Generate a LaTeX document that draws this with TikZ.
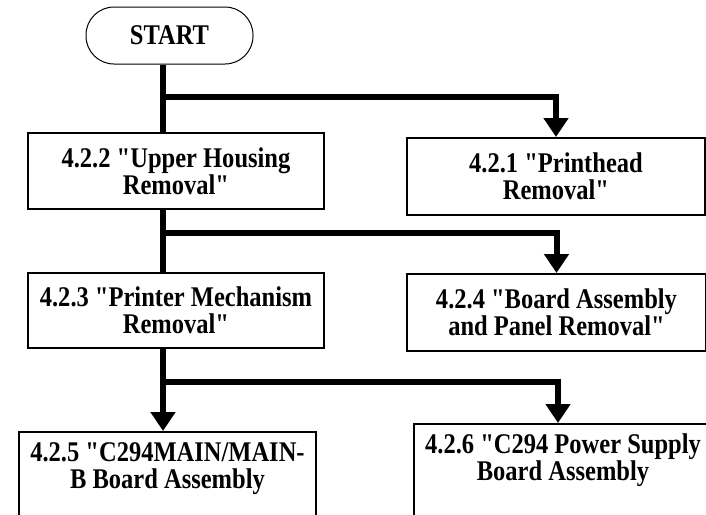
\documentclass[tikz,border=0pt]{standalone}
\usepackage{fontspec}
\setmainfont{Liberation Serif}[FakeStretch=0.86, Ligatures=TeXOff]
\usetikzlibrary{arrows.meta}

\tikzset{
  stepbox/.style={draw, line width=2pt, align=center, inner xsep=3pt, inner ysep=0pt,
    font=\bfseries\fontsize{28.5}{27}\selectfont},
  startbox/.style={draw, line width=1pt, rounded corners=28pt, minimum width=167pt,
    minimum height=57pt, font=\bfseries\fontsize{28.5}{27}\selectfont},
  link/.style={line width=6pt},
  linkarrow/.style={line width=6pt, -{Triangle[width=24pt,length=19pt]}},
}

\begin{document}
\begin{tikzpicture}[x=1pt,y=-1pt]
        \useasboundingbox (0,0) rectangle (706,514);
        \clip (0,0) rectangle (706,514);
        \node[startbox] (start) at (169.5,35.5) {START};
        \node[stepbox, minimum width=296pt, minimum height=76pt] (upper) at (176,171) {4.2.2 "Upper Housing\\Removal"};
        \node[stepbox, minimum width=298pt, minimum height=77pt] (printhead) at (556,176.5) {4.2.1 "Printhead\\Removal"};
        \node[stepbox, minimum width=296pt, minimum height=75pt] (mech) at (176,310.5) {4.2.3 "Printer Mechanism\\Removal"};
        \node[stepbox, minimum width=299pt, minimum height=77pt] (board) at (556.5,312.5) {4.2.4 "Board Assembly\\and Panel Removal"};
        \node[stepbox, anchor=north, minimum width=297pt, inner ysep=11pt, text depth=80pt] (mainb) at (167.5,431) {4.2.5 "C294MAIN/MAIN-\\B Board Assembly};
        \node[stepbox, anchor=north, minimum width=298pt, inner ysep=10pt, text depth=80pt] (psu) at (563,423) {4.2.6 "C294 Power Supply\\Board Assembly};
        % trunk and forks
        \coordinate (trunk) at (163,0);
        \coordinate (fork1) at (163,97);
        \coordinate (fork2) at (163,233);
        \coordinate (fork3) at (163,382);
        \draw[link] (start.south -| trunk) -- (upper.north -| trunk);
        \draw[linkarrow] (fork1) -| (printhead.north);
        \draw[link] (upper.south -| trunk) -- (mech.north -| trunk);
        \draw[linkarrow] (fork2) -| (board.north);
        \draw[linkarrow] (mech.south -| trunk) -- (mainb.north -| trunk);
        \draw[linkarrow] (fork3) -| ([xshift=-5pt]psu.north);
\end{tikzpicture}
\end{document}
